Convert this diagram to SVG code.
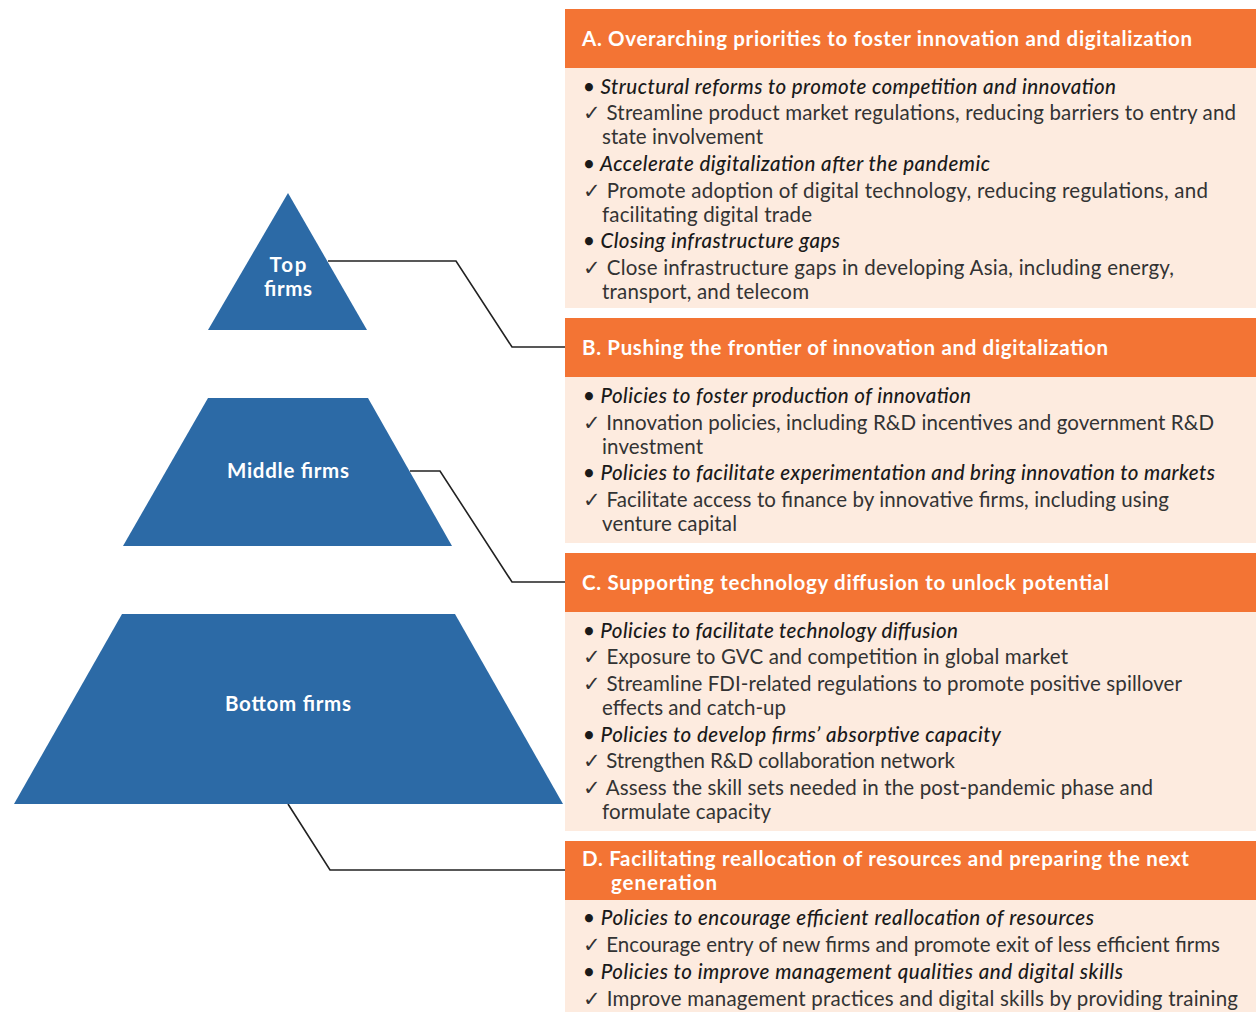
<svg xmlns="http://www.w3.org/2000/svg" width="1256" height="1012" viewBox="0 0 1256 1012">
<style>
.hd{fill:#F37434}
.bd{fill:#FDEBDF}
.ht{font-family:Lato,"Open Sans",sans-serif;font-weight:bold;font-size:20.5px;fill:#FFFFFF}
.it{font-family:Lato,"Open Sans",sans-serif;font-style:italic;font-weight:500;font-size:20.5px;fill:#1a1a1a}
.tx{font-family:Lato,"Open Sans",sans-serif;font-size:20.5px;fill:#333333}
.py{fill:#2C6AA6}
.pl{font-family:Lato,"Open Sans",sans-serif;font-weight:bold;font-size:20.5px;fill:#FFFFFF;text-anchor:middle}
.cn{fill:none;stroke:#222222;stroke-width:1.6}
</style>
<rect width="1256" height="1012" fill="#FFFFFF"/>
<g id="connectors">
<polyline class="cn" points="328,261 456,261 512,347 565,347"/>
<polyline class="cn" points="410,471 440,471 512,582 565,582"/>
<polyline class="cn" points="288,804 330,870 565,870"/>
</g>
<g id="top-firms">
<polygon class="py" points="288,193 367,330 208,330"/>
<text class="pl" x="288" y="272" textLength="37">Top</text>
<text class="pl" x="288" y="296" textLength="48">firms</text>
</g>
<g id="middle-firms">
<polygon class="py" points="208,398 368,398 452,546 123,546"/>
<text class="pl" x="288" y="478" textLength="122">Middle firms</text>
</g>
<g id="bottom-firms">
<polygon class="py" points="122,614 455,614 563,804 14,804"/>
<text class="pl" x="288" y="711" textLength="126">Bottom firms</text>
</g>
<g id="panel-a">
<rect class="hd" x="565" y="9" width="691" height="59"/>
<rect class="bd" x="565" y="68" width="691" height="240"/>
<text class="ht" x="582" y="46" textLength="610">A. Overarching priorities to foster innovation and digitalization</text>
<text class="it" x="583" y="94" textLength="533">• Structural reforms to promote competition and innovation</text>
<text class="tx" x="583" y="120" textLength="653">✓ Streamline product market regulations, reducing barriers to entry and</text>
<text class="tx" x="602" y="144" textLength="161">state involvement</text>
<text class="it" x="583" y="171" textLength="407">• Accelerate digitalization after the pandemic</text>
<text class="tx" x="583" y="198" textLength="625">✓ Promote adoption of digital technology, reducing regulations, and</text>
<text class="tx" x="602" y="222" textLength="210">facilitating digital trade</text>
<text class="it" x="583" y="248" textLength="257">• Closing infrastructure gaps</text>
<text class="tx" x="583" y="275" textLength="591">✓ Close infrastructure gaps in developing Asia, including energy,</text>
<text class="tx" x="602" y="299" textLength="207">transport, and telecom</text>
</g>
<g id="panel-b">
<rect class="hd" x="565" y="318" width="691" height="59"/>
<rect class="bd" x="565" y="377" width="691" height="166"/>
<text class="ht" x="582" y="355" textLength="526">B. Pushing the frontier of innovation and digitalization</text>
<text class="it" x="583" y="403" textLength="388">• Policies to foster production of innovation</text>
<text class="tx" x="583" y="430" textLength="631">✓ Innovation policies, including R&amp;D incentives and government R&amp;D</text>
<text class="tx" x="602" y="454" textLength="101">investment</text>
<text class="it" x="583" y="480" textLength="632">• Policies to facilitate experimentation and bring innovation to markets</text>
<text class="tx" x="583" y="507" textLength="586">✓ Facilitate access to finance by innovative firms, including using</text>
<text class="tx" x="602" y="531" textLength="135">venture capital</text>
</g>
<g id="panel-c">
<rect class="hd" x="565" y="553" width="691" height="59"/>
<rect class="bd" x="565" y="612" width="691" height="219"/>
<text class="ht" x="582" y="590" textLength="527">C. Supporting technology diffusion to unlock potential</text>
<text class="it" x="583" y="638" textLength="375">• Policies to facilitate technology diffusion</text>
<text class="tx" x="583" y="664" textLength="485">✓ Exposure to GVC and competition in global market</text>
<text class="tx" x="583" y="691" textLength="599">✓ Streamline FDI-related regulations to promote positive spillover</text>
<text class="tx" x="602" y="715" textLength="184">effects and catch-up</text>
<text class="it" x="583" y="742" textLength="418">• Policies to develop firms’ absorptive capacity</text>
<text class="tx" x="583" y="768" textLength="372">✓ Strengthen R&amp;D collaboration network</text>
<text class="tx" x="583" y="795" textLength="570">✓ Assess the skill sets needed in the post-pandemic phase and</text>
<text class="tx" x="602" y="819" textLength="169">formulate capacity</text>
</g>
<g id="panel-d">
<rect class="hd" x="565" y="841" width="691" height="59"/>
<rect class="bd" x="565" y="900" width="691" height="112"/>
<text class="ht" x="582" y="866" textLength="607">D. Facilitating reallocation of resources and preparing the next</text>
<text class="ht" x="611" y="890" textLength="106">generation</text>
<text class="it" x="583" y="925" textLength="511">• Policies to encourage efficient reallocation of resources</text>
<text class="tx" x="583" y="952" textLength="637">✓ Encourage entry of new firms and promote exit of less efficient firms</text>
<text class="it" x="583" y="979" textLength="540">• Policies to improve management qualities and digital skills</text>
<text class="tx" x="583" y="1006" textLength="655">✓ Improve management practices and digital skills by providing training</text>
</g>
</svg>
